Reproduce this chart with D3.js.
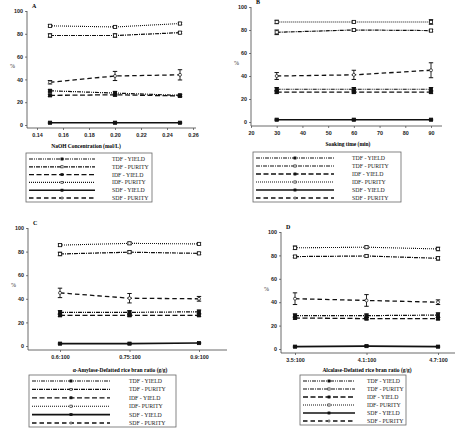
<!DOCTYPE html>
<html>
<head>
<meta charset="utf-8">
<script src="https://cdn.jsdelivr.net/npm/d3@7"></script>
<style>
body { margin:0; background:#fff; }
svg { font-family:"Liberation Serif", "DejaVu Serif", serif; }
</style>
</head>
<body>
<div id="chart"></div>
<script>
var width = 458;
var height = 439;

// series names, in legend order
var seriesNames = ["TDF - YIELD", "TDF - PURITY", "IDF - YIELD", "IDF- PURITY", "SDF - YIELD", "SDF - PURITY"];

// panel A - NaOH concentration
var naohConc = [0.15, 0.20, 0.25];
var naohTicks = [0.14, 0.16, 0.18, 0.20, 0.22, 0.24, 0.26];
var naohValues = [
  [30, 28, 26],
  [78.5, 78.5, 81],
  [26, 26.5, 25.5],
  [87, 86, 89],
  [2, 2, 2],
  [37.5, 43, 44]
];
var naohErrors = [
  [1, 1.5, 1],
  [1.5, 1.5, 1],
  [1, 1, 1],
  [1, 1, 1],
  [0.5, 0.5, 0.5],
  [1.5, 4, 4.5]
];

// panel B - soaking time
var soakTime = [30, 60, 90];
var soakTicks = [20, 30, 40, 50, 60, 70, 80, 90];
var soakValues = [
  [28.5, 28.5, 28.5],
  [78, 80, 79.5],
  [26, 26, 26],
  [87, 87, 87],
  [2, 2, 2],
  [40, 41, 45]
];
var soakErrors = [
  [1.5, 1.5, 1.5],
  [2, 1, 1],
  [1, 1, 1],
  [1.5, 1, 2],
  [0.5, 0.5, 0.5],
  [3, 4, 6.5]
];

// panel C - alpha-amylase ratio
var amylaseRatio = ["0.6:100", "0.75:100", "0.9:100"];
var amylaseValues = [
  [28.5, 28.5, 29],
  [78, 79.5, 78.5],
  [26, 26, 26],
  [85.5, 87, 86.5],
  [2, 2, 2.5],
  [45, 40.5, 40]
];
var amylaseErrors = [
  [1.5, 1.5, 1.5],
  [1.5, 1, 1],
  [1, 1, 1],
  [1, 1, 1],
  [0.5, 0.5, 0.5],
  [4, 4, 2]
];

// panel D - alcalase ratio
var alcalaseRatio = ["3.5:100", "4.1:100", "4.7:100"];
var alcalaseValues = [
  [28.5, 28.5, 29],
  [79, 79.5, 77.5],
  [26.5, 26, 26],
  [86.5, 87, 85.5],
  [2, 2.5, 2],
  [43, 41.5, 40]
];
var alcalaseErrors = [
  [1.5, 1.5, 2],
  [1, 1, 1.5],
  [1, 1, 1],
  [1.5, 1, 1.5],
  [0.5, 0.5, 0.5],
  [5, 5, 2]
];

var yTicks = [0, 20, 40, 60, 80, 100];

// line styles per series
var styles = [
  {dash: "4,1,1,1,1,1", w: 1.2, marker: "square", fill: "#111"},
  {dash: "4,1,1,1", w: 1.2, marker: "square", fill: "#fff"},
  {dash: "5,2.5", w: 1.3, marker: "square", fill: "#111"},
  {dash: "1,1", w: 1.1, marker: "square", fill: "#fff"},
  {dash: null, w: 1.6, marker: "square", fill: "#111"},
  {dash: "4.5,3", w: 1.3, marker: "circle", fill: "#fff"}
];

var svg = d3.select("#chart").append("svg")
  .attr("width", width)
  .attr("height", height);

function drawPanel(p) {
  var g = svg.append("g");
  var x;
  if (p.categorical) {
    x = d3.scalePoint().domain(p.xs).range(p.xRange);
  } else {
    x = d3.scaleLinear().domain(p.xDomain).range(p.xRange);
  }
  var y = d3.scaleLinear().domain([0, 100]).range(p.yRange);

  // y axis
  var yAxis = d3.axisLeft(y).tickValues(yTicks).tickSize(2).tickSizeOuter(0);
  var ya = g.append("g").attr("transform", "translate(" + p.axisX + ",0)").call(yAxis);
  ya.select(".domain").remove();
  g.append("line").attr("x1", p.axisX).attr("x2", p.axisX)
    .attr("y1", p.yRange[1]).attr("y2", p.axisY).attr("stroke", "#444").attr("stroke-width", 0.8);

  // x axis
  var xAxis = d3.axisBottom(x).tickSize(2).tickSizeOuter(0);
  if (!p.categorical) xAxis.tickValues(p.ticks).tickFormat(p.fmt);
  var xa = g.append("g").attr("transform", "translate(0," + p.axisY + ")").call(xAxis);
  xa.select(".domain").remove();
  g.append("line").attr("x1", p.axisX).attr("x2", p.axisRight)
    .attr("y1", p.axisY).attr("y2", p.axisY).attr("stroke", "#444").attr("stroke-width", 0.8);

  g.selectAll(".tick line").attr("stroke", "#444").attr("stroke-width", 0.7);
  g.selectAll(".tick text").attr("font-size", 5.4).attr("font-weight", "bold").attr("fill", "#222");
  ya.selectAll(".tick text").attr("x", -4);
  xa.selectAll(".tick text").attr("y", 5);

  // panel letter and labels
  g.append("text").attr("x", p.axisX + 5).attr("y", p.yRange[1] - 3)
    .attr("font-size", 6).attr("font-weight", "bold").text(p.letter);
  g.append("text").attr("x", p.axisX - 17).attr("y", (p.yRange[0] + p.yRange[1]) / 2)
    .attr("font-size", 6).attr("fill", "#333").text("%");
  g.append("text").attr("x", p.titleX).attr("y", p.titleY)
    .attr("text-anchor", "middle").attr("font-size", 5.5).attr("font-weight", "bold")
    .text(p.title);

  var xs = p.xs;
  var line = d3.line().x(function(d) { return x(d.x); }).y(function(d) { return y(d.v); });

  p.values.forEach(function(vals, i) {
    var st = styles[i];
    var pts = vals.map(function(v, j) { return {x: xs[j], v: v, e: p.errors[i][j]}; });
    g.append("path").datum(pts)
      .attr("d", line).attr("fill", "none").attr("stroke", "#111")
      .attr("stroke-width", st.w)
      .attr("stroke-dasharray", st.dash);
    // error bars
    pts.forEach(function(d) {
      var cx = x(d.x);
      g.append("line").attr("x1", cx).attr("x2", cx)
        .attr("y1", y(d.v - d.e)).attr("y2", y(d.v + d.e))
        .attr("stroke", "#111").attr("stroke-width", 0.9);
      [d.v - d.e, d.v + d.e].forEach(function(ev) {
        g.append("line").attr("x1", cx - 2.2).attr("x2", cx + 2.2)
          .attr("y1", y(ev)).attr("y2", y(ev))
          .attr("stroke", "#111").attr("stroke-width", 1);
      });
      if (st.marker == "circle") {
        g.append("circle").attr("cx", cx).attr("cy", y(d.v)).attr("r", 1.5)
          .attr("fill", st.fill).attr("stroke", "#111").attr("stroke-width", 0.7);
      } else {
        g.append("rect").attr("x", cx - 1.6).attr("y", y(d.v) - 1.6)
          .attr("width", 3.2).attr("height", 3.2)
          .attr("fill", st.fill).attr("stroke", "#111").attr("stroke-width", 0.8);
      }
    });
  });

  // legend
  var lg = p.legend;
  g.append("rect").attr("x", lg.x).attr("y", lg.y).attr("width", lg.w).attr("height", lg.h)
    .attr("fill", "#fff").attr("stroke", "#666").attr("stroke-width", 0.8);
  seriesNames.forEach(function(name, i) {
    var st = styles[i];
    var ry = lg.y + 6 + i * (lg.h - 10) / 5;
    g.append("line").attr("x1", lg.x + 3).attr("x2", lg.lineEnd)
      .attr("y1", ry).attr("y2", ry)
      .attr("stroke", "#111").attr("stroke-width", st.w)
      .attr("stroke-dasharray", st.dash);
    var mx = (lg.x + 3 + lg.lineEnd) / 2;
    if (st.marker == "circle") {
      g.append("circle").attr("cx", mx).attr("cy", ry).attr("r", 1.1)
        .attr("fill", st.fill).attr("stroke", "#111").attr("stroke-width", 0.6);
    } else {
      g.append("rect").attr("x", mx - 1.1).attr("y", ry - 1.1).attr("width", 2.2).attr("height", 2.2)
        .attr("fill", st.fill).attr("stroke", "#111").attr("stroke-width", 0.6);
    }
    g.append("text").attr("x", lg.textX).attr("y", ry + 2)
      .attr("font-size", 5.8).attr("fill", "#222").text(name);
  });
}

drawPanel({
  letter: "A", categorical: false,
  xs: naohConc, values: naohValues, errors: naohErrors,
  xDomain: [0.14, 0.26], xRange: [37, 193], ticks: naohTicks, fmt: d3.format(".2f"),
  yRange: [125, 11], axisX: 27, axisY: 128, axisRight: 196,
  title: "NaOH Concentration (mol/L)", titleX: 86, titleY: 148,
  legend: {x: 26, y: 153, w: 126, h: 49, lineEnd: 95, textX: 112}
});

drawPanel({
  letter: "B", categorical: false,
  xs: soakTime, values: soakValues, errors: soakErrors,
  xDomain: [20, 90], xRange: [251, 431], ticks: soakTicks, fmt: d3.format("d"),
  yRange: [122, 7], axisX: 251, axisY: 126, axisRight: 442,
  title: "Soaking time (min)", titleX: 348, titleY: 146,
  legend: {x: 253, y: 152, w: 148, h: 50, lineEnd: 334, textX: 352}
});

drawPanel({
  letter: "C", categorical: true,
  xs: amylaseRatio, values: amylaseValues, errors: amylaseErrors,
  xRange: [60, 199],
  yRange: [346, 228], axisX: 28, axisY: 350, axisRight: 227,
  title: "\u03b1-Amylase-Defatted rice bran ratio (g/g)", titleX: 120, titleY: 372,
  legend: {x: 29, y: 375, w: 147, h: 52, lineEnd: 110, textX: 129}
});

drawPanel({
  letter: "D", categorical: true,
  xs: alcalaseRatio, values: alcalaseValues, errors: alcalaseErrors,
  xRange: [295, 438],
  yRange: [349, 232], axisX: 281, axisY: 353, axisRight: 455,
  title: "Alcalase-Defatted rice bran ratio (g/g)", titleX: 367, titleY: 372,
  legend: {x: 300, y: 375, w: 106, h: 50, lineEnd: 355, textX: 367}
});
</script>
</body>
</html>
